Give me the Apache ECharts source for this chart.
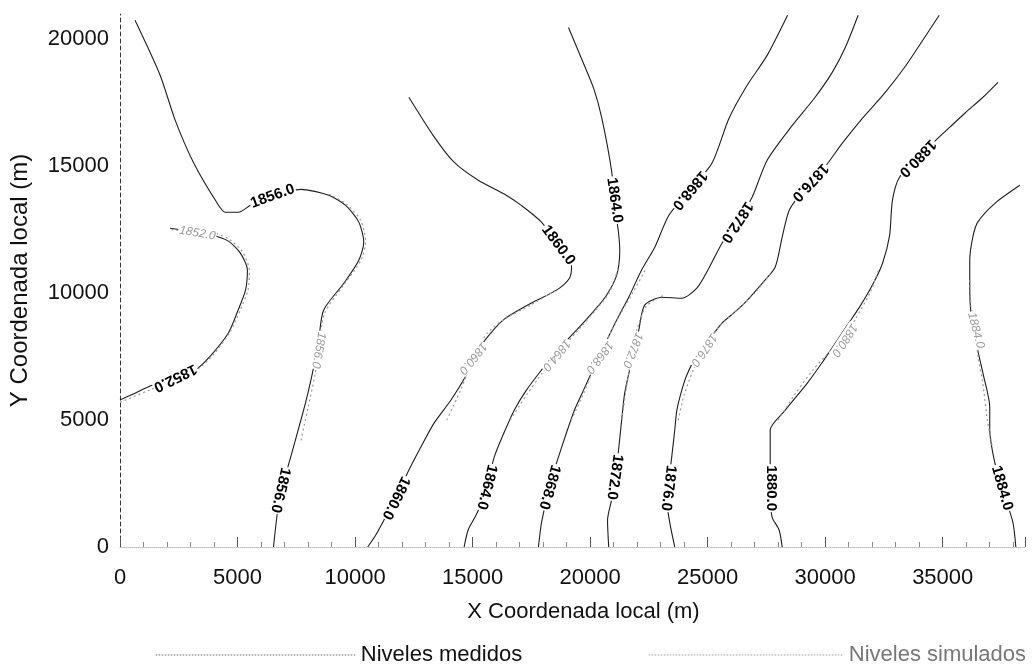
<!DOCTYPE html>
<html>
<head>
<meta charset="utf-8">
<script src="https://cdn.jsdelivr.net/npm/echarts@6/dist/echarts.min.js"></script>
<style>html,body{margin:0;padding:0;background:#fff}#c{width:1032px;height:671px}</style>
</head>
<body>
<div id="c"></div>
<script>
// ---- Tick labels ----
const xTicks = [0, 5000, 10000, 15000, 20000, 25000, 30000, 35000];
const yTicks = [0, 5000, 10000, 15000, 20000];

// ---- Measured contours (Niveles medidos), [x, y] in metres ----
const m1852 = [[0,5790],[640,6060],[1280,6340],[2350,6690],[3200,6970],[3840,7520],[4610,8430],[4990,9250],[5340,10120],[5420,10910],[5120,11580],[4610,12050],[3930,12280],[2990,12440],[2130,12560]];
const m1856 = [[6530,0],[6700,1380],[6870,2240],[7260,3540],[7900,5710],[8240,7090],[8450,8150],[8660,9330],[9520,10390],[10160,11300],[10370,12010],[10160,12800],[9600,13460],[8880,13860],[7680,14090],[6400,13780],[5550,13460],[5040,13190],[4480,13190],[4060,13660],[3120,15160],[2350,16810],[1710,18580],[640,20750]];
const m1860 = [[10540,0],[10880,470],[11230,1060],[11740,1930],[12290,3030],[12800,3940],[13360,4880],[14080,5790],[14730,6770],[15370,7950],[16300,8940],[17500,9610],[18570,10120],[19120,10590],[19210,11060],[18650,11890],[17930,12800],[17070,13460],[16430,13860],[15240,14450],[14210,15160],[13320,16220],[12290,17720]];
const m1864 = [[14640,0],[14810,670],[15150,1260],[15490,1970],[15920,3540],[16350,4530],[16770,5390],[17290,6180],[17930,6970],[18610,7760],[19420,8540],[20190,9330],[20700,9920],[21130,10710],[21260,11690],[21210,12360],[21080,13270],[20910,14840],[20490,16930],[20150,18070],[19630,19250],[19080,20470]];
const m1868 = [[17800,0],[17930,950],[18140,1850],[18350,2640],[18650,3540],[18990,4490],[19330,5390],[19720,6180],[20150,7050],[20610,7950],[21130,8940],[21640,9840],[22190,10910],[22750,11810],[23350,13070],[24240,14060],[25180,15120],[25910,16890],[26680,18190],[27530,19370],[28400,20950]];
const m1872 = [[20790,0],[20740,1060],[20910,1850],[21080,2840],[21210,3820],[21340,5000],[21470,6060],[21680,6970],[21900,7760],[22070,8540],[22320,9530],[23050,9840],[23900,9800],[24540,10200],[25050,10980],[25610,11970],[26250,12800],[26890,13780],[27530,15240],[28600,16610],[29540,17680],[30300,18700],[30860,19690],[31400,20950]];
const m1876 = [[23600,0],[23390,950],[23260,1850],[23350,2640],[23470,3540],[23600,4610],[23690,5390],[23900,6180],[24110,6770],[24540,7560],[25050,8150],[25610,8820],[26250,9330],[26680,9720],[27320,10390],[27870,11020],[28170,12210],[28470,13270],[29020,13980],[29880,14840],[30730,15910],[31580,16890],[32520,17870],[33380,18900],[34060,19840],[34850,20950]];
const m1880 = [[28170,0],[28040,670],[27740,1180],[27660,2240],[27660,3540],[27660,4610],[28300,5390],[29240,6460],[29880,7280],[30520,8150],[30940,8740],[31460,9450],[32010,10320],[32440,11180],[32740,12280],[32860,13660],[33160,14570],[33930,15320],[34700,16020],[35300,16540],[35940,17090],[36710,17720],[37350,18310]];
const m1884 = [[38110,0],[37990,950],[37690,1850],[37350,2840],[37130,3700],[37000,4610],[37000,5510],[36710,6850],[36490,7760],[36190,9330],[36150,10390],[36150,11300],[36280,12210],[36490,12800],[37220,13540],[38280,14250]];

// ---- Simulated contours (Niveles simulados) ----
const s1852 = [[0,5700],[1300,6200],[2400,6600],[3300,7000],[4000,7600],[4700,8500],[5100,9300],[5450,10150],[5500,10900],[5200,11650],[4600,12150],[3900,12400],[3000,12450],[2100,12500]];
const s1856 = [[7700,4200],[8000,5500],[8300,6800],[8450,7760],[8700,9200],[9500,10300],[10250,11300],[10450,12050],[10250,12850],[9650,13500],[8900,13900]];
const s1860 = [[13900,5000],[14500,6200],[15020,7440],[15600,8400],[16400,9000],[17500,9550],[18500,10100]];
const s1864 = [[16600,5000],[17300,6000],[18000,6900],[18570,7560],[19400,8450],[20200,9300],[20800,10000],[21200,11000]];
const s1868 = [[19200,5000],[19700,6000],[20100,6900],[20400,7480],[20800,8300],[21300,9200],[21800,10000],[22400,11000]];
const s1872 = [[21350,5000],[21500,6000],[21650,6900],[21810,7760],[22000,8600],[22400,9500],[23100,9900]];
const s1876 = [[23750,5000],[24000,6000],[24400,7000],[24840,7760],[25400,8600],[26200,9300],[27000,10000],[27700,10800]];
const s1880 = [[28000,5000],[28700,6000],[29500,7000],[30200,7700],[30800,8150],[31300,9000],[31900,10000],[32300,11000]];
const s1884 = [[37100,4000],[36900,5000],[36700,6500],[36500,7500],[36400,8540],[36200,9500],[36150,10500]];

const measured = [m1852, m1856, m1860, m1864, m1868, m1872, m1876, m1880, m1884];
const simulated = [s1852, s1856, s1860, s1864, s1868, s1872, s1876, s1880, s1884];

// ---- Contour labels ----
const mLabelPos = [[2350,6670],[6820,2240],[6490,13820],[11740,1930],[18650,11890],[15600,2360],[21040,13660],[18270,2360],[24240,14060],[21040,2760],[26250,12800],[23330,2320],[29360,14370],[27680,2320],[33930,15320],[37520,2320]];
const mLabelLevel = [1852,1856,1856,1860,1860,1864,1864,1868,1868,1872,1872,1876,1876,1880,1880,1884];
const mLabelRot = [-154,-103,20,-116,-53,-104,-82,-106,-130,-98,-123,-97,-133,-90,-134,-74];

const sLabelPos = [[3290,12360],[8450,7760],[15020,7440],[18570,7560],[20400,7480],[21810,7760],[24840,7760],[30820,8150],[36410,8540]];
const sLabelLevel = [1852,1856,1860,1864,1868,1872,1876,1880,1884];
const sLabelRot = [-10,-100,-129,-129,-127,-111,-124,-123,-75];

const FONT = 'Liberation Sans, Arial, sans-serif';

const series = [];
measured.forEach(d => series.push({
  type: 'line', name: 'Niveles medidos', data: d, showSymbol: false, symbol: 'none',
  smooth: 0.25, lineStyle: { color: '#1e1e1e', width: 1.1, type: 'solid' }, z: 2, silent: true
}));
simulated.forEach(d => series.push({
  type: 'line', name: 'Niveles simulados', data: d, showSymbol: false, symbol: 'none',
  smooth: 0.25, lineStyle: { color: '#999', width: 1.2, type: [2, 3] }, z: 3, silent: true
}));
series.push({
  type: 'scatter', name: 'lab_m', symbolSize: 1, itemStyle: { color: 'rgba(0,0,0,0)' }, z: 10, silent: true,
  data: mLabelPos.map((p, i) => ({ value: [p[0], p[1], mLabelLevel[i]], label: { rotate: mLabelRot[i] } })),
  label: { show: true, position: 'inside', opacity: 1, formatter: p => p.value[2].toFixed(1),
    fontFamily: FONT, fontSize: 15, fontWeight: 'bold', color: '#000', backgroundColor: '#fff', padding: [0, 1] }
});
series.push({
  type: 'scatter', name: 'lab_s', symbolSize: 1, itemStyle: { color: 'rgba(0,0,0,0)' }, z: 10, silent: true,
  data: sLabelPos.map((p, i) => ({ value: [p[0], p[1], sLabelLevel[i]], label: { rotate: sLabelRot[i] } })),
  label: { show: true, position: 'inside', opacity: 1, formatter: p => p.value[2].toFixed(1),
    fontFamily: FONT, fontSize: 12, fontStyle: 'italic', color: '#999', backgroundColor: '#fff', padding: [0, 1] }
});

const chart = echarts.init(document.getElementById('c'), null, { renderer: 'canvas' });
chart.setOption({
  animation: false,
  backgroundColor: '#fff',
  grid: { left: 120, right: 7, top: 14, bottom: 124 },
  xAxis: {
    type: 'value', min: 0, max: 38500, interval: 5000,
    name: 'X Coordenada local (m)', nameLocation: 'middle', nameGap: 54,
    nameTextStyle: { fontFamily: FONT, fontSize: 22, color: '#111', padding: [0, 0, 0, 22] },
    axisLine: { show: true, lineStyle: { color: '#bbb', type: 'dotted', width: 1 } },
    axisTick: { show: true, inside: true, length: 10, lineStyle: { color: '#555' } },
    minorTick: { show: true, splitNumber: 5, length: 5, lineStyle: { color: '#888' } },
    axisLabel: { fontFamily: FONT, fontSize: 22, color: '#111', margin: 20, showMaxLabel: false,
      formatter: v => xTicks.includes(v) ? String(v) : '' },
    splitLine: { show: false }
  },
  yAxis: {
    type: 'value', min: 0, max: 21000, interval: 5000,
    name: 'Y Coordenada local (m)', nameLocation: 'middle', nameGap: 88,
    nameTextStyle: { fontFamily: FONT, fontSize: 24, color: '#111' },
    axisLine: { show: true, lineStyle: { color: '#333', type: [4, 3], width: 1 } },
    axisTick: { show: false },
    axisLabel: { fontFamily: FONT, fontSize: 22, color: '#111', margin: 11, showMaxLabel: false,
      formatter: v => yTicks.includes(v) ? String(v) : '' },
    splitLine: { show: false }
  },
  legend: [
    { data: ['Niveles medidos'], left: 150, top: 639, itemWidth: 200, itemHeight: 8, selectedMode: false,
      itemStyle: { opacity: 0 },
      lineStyle: { color: '#999', type: 'dotted', width: 1.5 },
      textStyle: { fontFamily: FONT, fontSize: 22, color: '#111' } },
    { data: ['Niveles simulados'], left: 643, top: 639, itemWidth: 195, itemHeight: 8, selectedMode: false,
      itemStyle: { opacity: 0 },
      lineStyle: { color: '#bbb', type: 'dotted', width: 1.5 },
      textStyle: { fontFamily: FONT, fontSize: 22, color: '#777' } }
  ],
  series: series
});
</script>
</body>
</html>
